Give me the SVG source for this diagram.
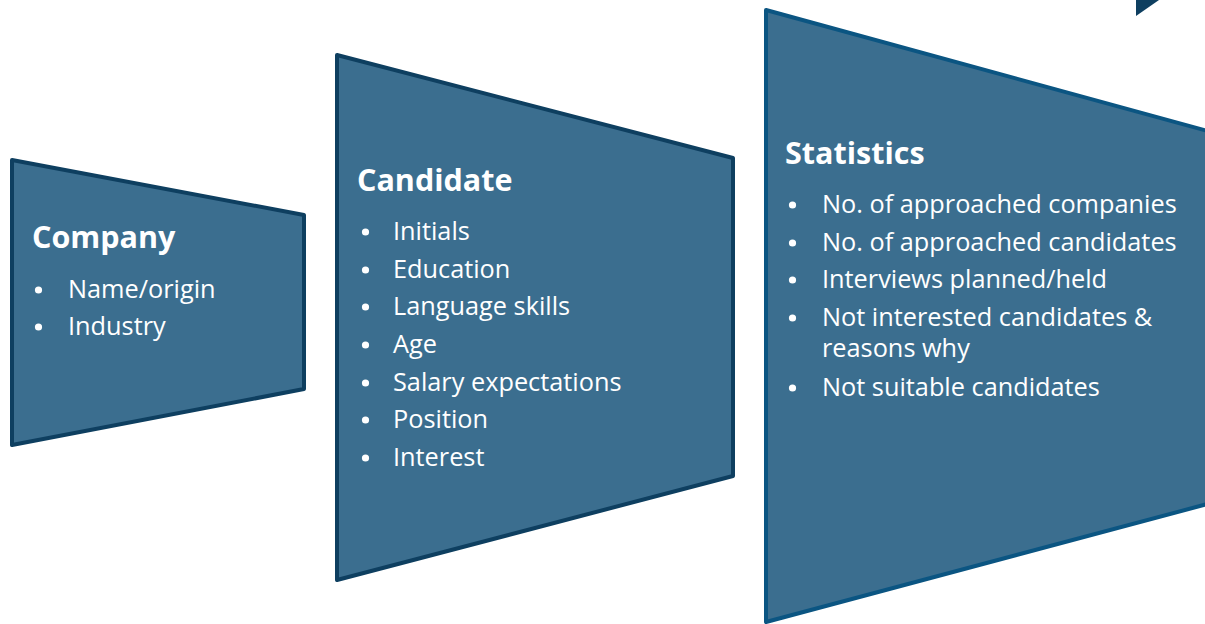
<svg xmlns="http://www.w3.org/2000/svg" width="1205" height="624" viewBox="0 0 1205 624">
<style>
.box{fill:#3b6e8f;stroke:#0e3f60;stroke-width:4;stroke-linejoin:round}
.stat{stroke:#0b5582}
.t{font-family:"Open Sans","Liberation Sans",sans-serif;fill:#ffffff;font-size:25.3px}
.h{font-family:"Open Sans","Liberation Sans",sans-serif;fill:#ffffff;font-size:30.5px;font-weight:bold}
.b{fill:#ffffff}
</style>
<rect width="1205" height="624" fill="#ffffff"/>
<g id="corner">
<polygon points="1136,0 1159,0 1136,16" fill="#0e3f60"/>
</g>
<g id="company">
<polygon class="box" points="12,160 304,215 304,389 12,445"/>
<text class="h" x="32" y="248">Company</text>
<circle class="b" cx="38.5" cy="290" r="3.6"/><text class="t" x="68" y="298">Name/origin</text>
<circle class="b" cx="38.5" cy="327" r="3.6"/><text class="t" x="68" y="335">Industry</text>
</g>
<g id="candidate">
<polygon class="box" points="337,55 733,158 733,476 337,580"/>
<text class="h" x="357" y="191">Candidate</text>
<circle class="b" cx="365.5" cy="232" r="3.6"/><text class="t" x="393" y="240">Initials</text>
<circle class="b" cx="365.5" cy="270" r="3.6"/><text class="t" x="393" y="278">Education</text>
<circle class="b" cx="365.5" cy="307" r="3.6"/><text class="t" x="393" y="315">Language skills</text>
<circle class="b" cx="365.5" cy="345" r="3.6"/><text class="t" x="393" y="353">Age</text>
<circle class="b" cx="365.5" cy="383" r="3.6"/><text class="t" x="393" y="391">Salary expectations</text>
<circle class="b" cx="365.5" cy="420" r="3.6"/><text class="t" x="393" y="428">Position</text>
<circle class="b" cx="365.5" cy="458" r="3.6"/><text class="t" x="393" y="466">Interest</text>
</g>
<g id="statistics">
<polygon class="box stat" points="766,10 1215,133 1215,502 766,622"/>
<text class="h" x="785" y="164">Statistics</text>
<circle class="b" cx="792.5" cy="205" r="3.6"/><text class="t" x="822" y="213">No. of approached companies</text>
<circle class="b" cx="792.5" cy="243" r="3.6"/><text class="t" x="822" y="251">No. of approached candidates</text>
<circle class="b" cx="792.5" cy="280" r="3.6"/><text class="t" x="822" y="288">Interviews planned/held</text>
<circle class="b" cx="792.5" cy="318" r="3.6"/><text class="t" x="822" y="326">Not interested candidates &amp;</text>
<text class="t" x="822" y="357">reasons why</text>
<circle class="b" cx="792.5" cy="388" r="3.6"/><text class="t" x="822" y="396">Not suitable candidates</text>
</g>
<g id="connectors"/>
</svg>
